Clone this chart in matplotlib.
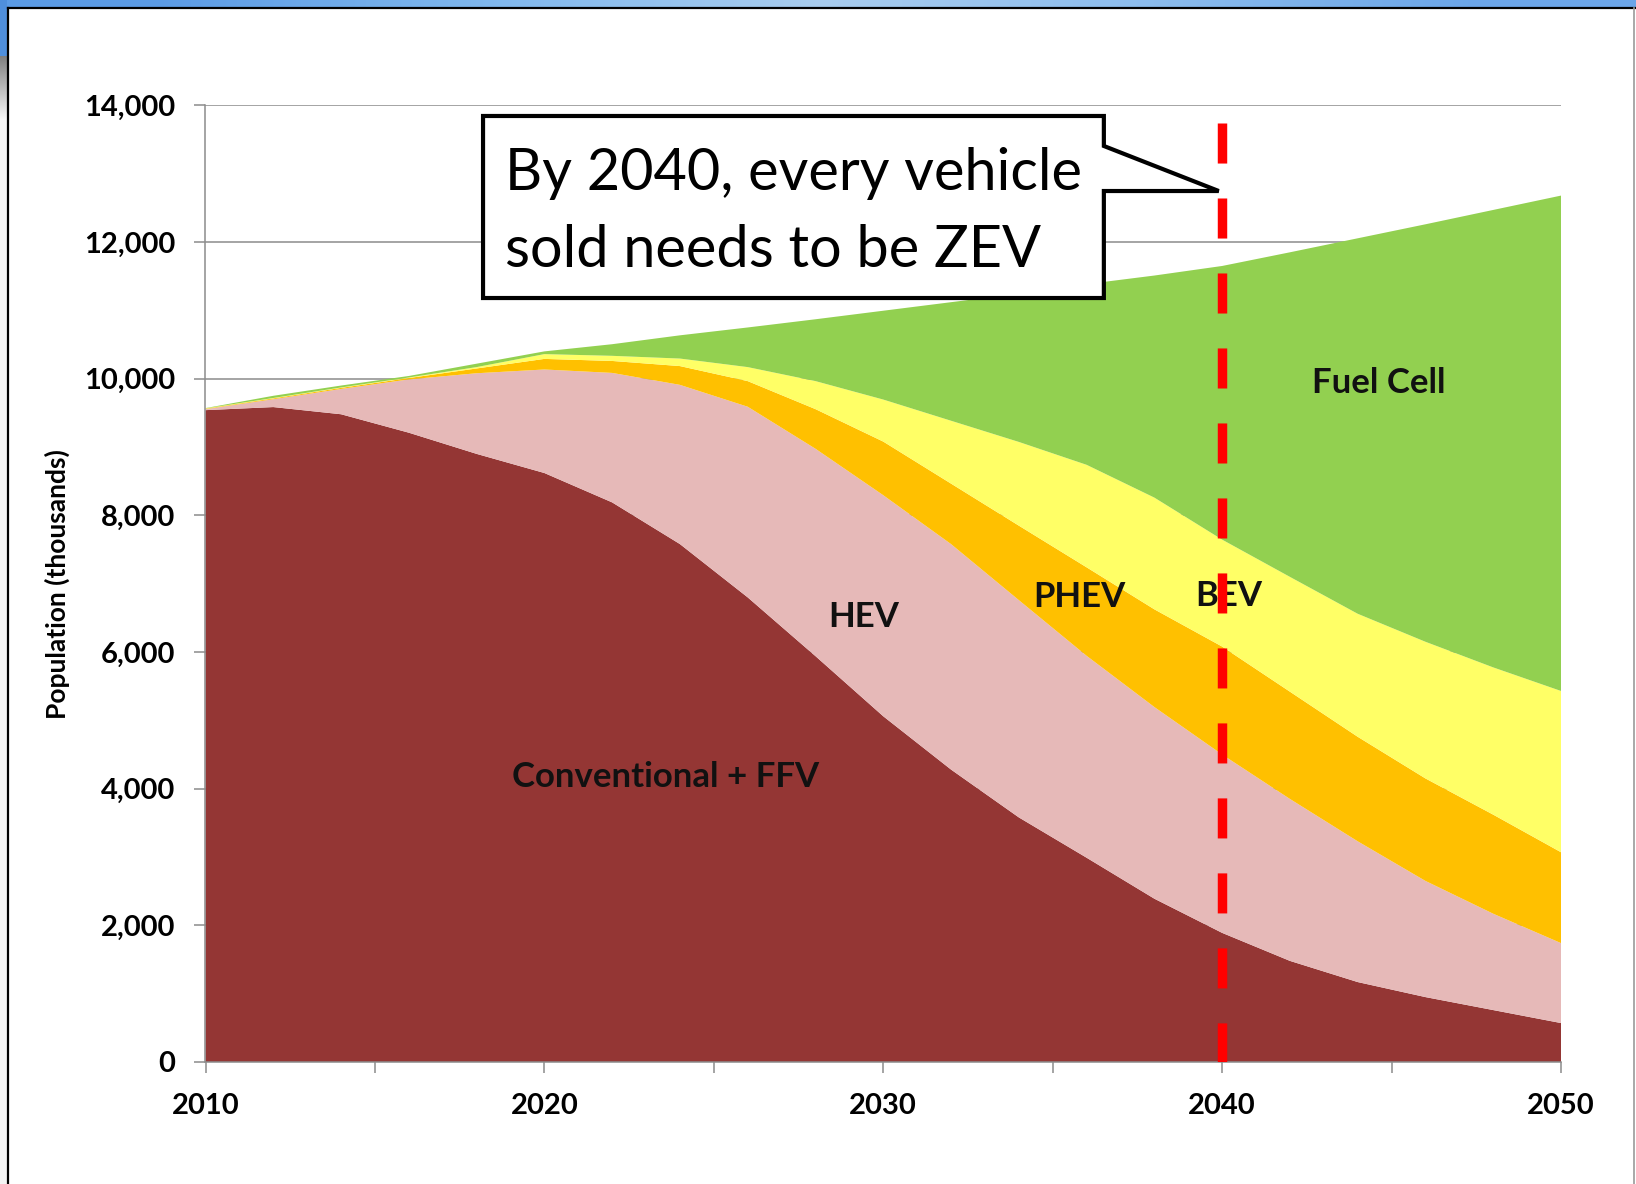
import numpy as np
import matplotlib
matplotlib.use("Agg")
import matplotlib.pyplot as plt
from matplotlib.patches import Polygon, Rectangle
from matplotlib.ticker import FuncFormatter, MultipleLocator

# ---------------- data (thousands of vehicles) ----------------
years = [2010, 2012, 2014, 2016, 2018, 2020, 2022, 2024, 2026, 2028, 2030,
         2032, 2034, 2036, 2038, 2040, 2042, 2044, 2046, 2048, 2050]
conventional = [9540, 9585, 9480, 9210, 8900, 8620, 8190, 7580, 6800, 5940, 5060,
                4280, 3580, 2990, 2390, 1890, 1480, 1170, 950, 760, 570]
hev = [15, 115, 370, 780, 1180, 1515, 1895, 2330, 2790, 3035, 3235,
       3300, 3180, 2955, 2805, 2610, 2370, 2060, 1700, 1410, 1170]
phev = [7, 12, 16, 20, 70, 155, 175, 275, 375, 580, 785,
        885, 1090, 1295, 1430, 1580, 1570, 1530, 1500, 1450, 1330]
bev = [4, 6, 6, 8, 20, 70, 75, 110, 205, 410, 615,
       920, 1225, 1500, 1635, 1565, 1680, 1800, 2000, 2155, 2360]
fuel_cell = [4, 32, 28, 22, 50, 40, 170, 340, 580, 905, 1300,
             1735, 2170, 2645, 3250, 4005, 4750, 5495, 6110, 6695, 7250]

series_labels = ["Conventional + FFV", "HEV", "PHEV", "BEV", "Fuel Cell"]
series_colors = ["#943634", "#E6B9B8", "#FFC000", "#FFFF66", "#92D050"]
y_ticks = [0, 2000, 4000, 6000, 8000, 10000, 12000, 14000]
x_label_years = [2010, 2020, 2030, 2040, 2050]
callout_lines = ["By 2040, every vehicle", "sold needs to be ZEV"]
zev_year = 2040

W, H = 1636, 1184
fig = plt.figure(figsize=(W / 100, H / 100), dpi=100, facecolor="white")

# ---------------- window frame (screenshot border) ----------------
bg = fig.add_axes([0, 0, 1, 1], zorder=-10)
bg.set_xlim(0, W)
bg.set_ylim(H, 0)
bg.axis("off")
top_grad = np.array([[0.36, 0.61, 0.90], [0.50, 0.72, 0.93], [0.66, 0.80, 0.93],
                     [0.55, 0.74, 0.93], [0.42, 0.65, 0.91]])
bg.imshow(top_grad[None, :, :], extent=(0, W, 7, 0), aspect="auto", interpolation="bilinear")
bg.add_patch(Rectangle((0, 0), 7, 56, color="#4f8fdc", lw=0))
gray = np.linspace(0.50, 0.97, 50)
bg.imshow(np.stack([gray, gray, gray], axis=1)[:, None, :], extent=(0, 7, 120, 56),
          aspect="auto", interpolation="bilinear")
bg.add_patch(Rectangle((0, 120), 7, H - 120, color="#f4f4f4", lw=0))
bg.plot([7.5, W], [7.5, 7.5], color="black", lw=1.6)
bg.plot([7.5, 7.5], [7.5, H], color="black", lw=1.6)
bg.plot([1634, 1634], [7.5, H], color="#9a9a9a", lw=1.2)
bg.set_xlim(0, W)
bg.set_ylim(H, 0)

# ---------------- main chart ----------------
ax = fig.add_axes([205.5 / W, 1 - 1062 / H, (1561 - 205.5) / W, (1062 - 105.4) / H])
ax.set_facecolor("white")
ax.stackplot(years, conventional, hev, phev, bev, fuel_cell,
             colors=series_colors, linewidth=0, zorder=2)

ax.set_xlim(2010, 2050)
ax.set_ylim(0, 14000)
ax.set_yticks(y_ticks)
ax.yaxis.set_major_formatter(FuncFormatter(lambda v, p: f"{int(v):,}"))
ax.xaxis.set_major_locator(MultipleLocator(5))
ax.xaxis.set_major_formatter(FuncFormatter(
    lambda v, p: f"{int(round(v))}" if int(round(v)) in x_label_years else ""))

ax.set_axisbelow(True)
ax.grid(axis="y", color="#8c8c8c", lw=1.1, zorder=0)
for s in ["top", "right"]:
    ax.spines[s].set_visible(False)
for s in ["left", "bottom"]:
    ax.spines[s].set_color("#8c8c8c")
    ax.spines[s].set_linewidth(1.1)
    ax.spines[s].set_zorder(3)

ax.tick_params(axis="both", direction="out", length=8, width=1.1, color="#8c8c8c", pad=14)
for lab in ax.get_xticklabels() + ax.get_yticklabels():
    lab.set_fontfamily("Lato")
    lab.set_fontweight("bold")
    lab.set_fontsize(21)

ax.set_ylabel("Population (thousands)", fontfamily="Lato", fontweight="bold", fontsize=19)
ax.yaxis.label.set_va("center")
ax.yaxis.set_label_coords(-0.1096, 0.5)

# ---------------- series labels ----------------
label_pos = {"Fuel Cell": (2044.63, 9937), "BEV": (2040.2, 6820), "PHEV": (2035.8, 6805),
             "HEV": (2029.43, 6513), "Conventional + FFV": (2023.59, 4171)}
for name in series_labels:
    x, y = label_pos[name]
    ax.text(x, y, name, ha="center", va="center", fontfamily="Lato",
            fontweight="bold", fontsize=25, color="#111111", zorder=4)

# ---------------- 2040 dashed line ----------------
ax.plot([zev_year, zev_year], [13740, 0], color="#FF0000", lw=6.8,
        dashes=(4.24, 3.7), solid_capstyle="butt", dash_capstyle="butt", zorder=5)

# ---------------- callout ----------------
callout = Polygon([(2018.19, 13845), (2036.51, 13845), (2036.51, 13406), (2039.9, 12747),
                   (2036.51, 12747), (2036.51, 11181), (2018.19, 11181)],
                  closed=True, facecolor="white", edgecolor="black", lw=3.0,
                  joinstyle="miter", zorder=6, clip_on=False)
ax.add_patch(callout)
ax.text(2018.84, 12762, callout_lines[0], ha="left", va="baseline", fontfamily="Lato",
        fontsize=41.5, color="black", zorder=7)
ax.text(2018.84, 11639, callout_lines[1], ha="left", va="baseline", fontfamily="Lato",
        fontsize=41.5, color="black", zorder=7)

fig.savefig("out.png", dpi=100, facecolor="white")
